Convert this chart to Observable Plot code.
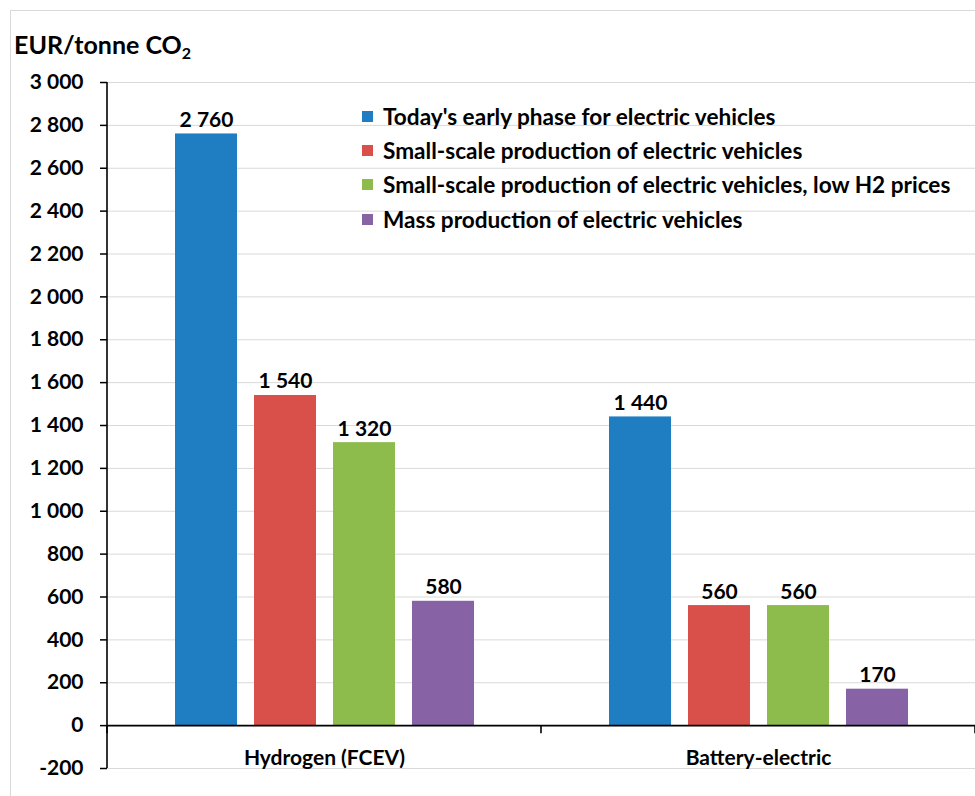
<!DOCTYPE html>
<html><head><meta charset="utf-8">
<script src="https://cdn.jsdelivr.net/npm/d3@7"></script>
<script src="https://cdn.jsdelivr.net/npm/@observablehq/plot@0.6"></script>
<style>
body{margin:0;background:#fff;font-family:Lato,"Open Sans",sans-serif;}
#wrap{position:relative;width:975px;height:796px;overflow:hidden;background:#fff}
#border{position:absolute;left:10px;top:10px;width:1000px;height:900px;border:1px solid #d9d9d9;}
#chart{position:absolute;left:0;top:0}
#title{position:absolute;left:14px;top:29px;font-weight:700;font-size:25px;color:#000;white-space:nowrap}
#title sub{font-size:16px;vertical-align:-5px;line-height:0}
#legend{position:absolute;left:362px;top:99px;font-weight:700;font-size:22.6px;color:#000}
#legend .row{display:flex;align-items:center;height:34.3px;white-space:nowrap}
#legend .sw{width:11px;height:11px;margin-right:10px;flex:none}
</style></head>
<body>
<div id="wrap">
  <div id="border"></div>
  <div id="chart"></div>
  <div id="title">EUR/tonne CO<sub>2</sub></div>
  <div id="legend"></div>
</div>
<script>
const groups = ["Hydrogen (FCEV)", "Battery-electric"];
const series = [
  "Today's early phase for electric vehicles",
  "Small-scale production of electric vehicles",
  "Small-scale production of electric vehicles, low H2 prices",
  "Mass production of electric vehicles"
];
const hydrogenValues = [2760, 1540, 1320, 580];
const batteryValues = [1440, 560, 560, 170];
const colors = ["#1f7dc1", "#d9504a", "#8dbb4c", "#8763a6"];
const yTicks = [-200, 0, 200, 400, 600, 800, 1000, 1200, 1400, 1600, 1800, 2000, 2200, 2400, 2600, 2800, 3000];
const categoryLabelY = -150;

const data = [];
series.forEach((s, i) => {
  data.push({group: groups[0], series: s, value: hydrogenValues[i]});
  data.push({group: groups[1], series: s, value: batteryValues[i]});
});

const fmt = d3.formatLocale({decimal: ",", thousands: "\u00a0", grouping: [3], currency: ["", ""], minus: "-"}).format(",d");
const font = "Lato, 'Open Sans', sans-serif";

const plot = Plot.plot({
  width: 975,
  height: 796,
  marginTop: 82,
  marginBottom: 28,
  marginLeft: 107,
  marginRight: 0,
  style: {fontFamily: font, fontSize: "21px", fontWeight: "bold", color: "#000", background: "transparent"},
  fx: {domain: groups, padding: 0, axis: null},
  x: {domain: series, paddingInner: 17/79, paddingOuter: 67.5/79, axis: null},
  y: {domain: [-200, 3000], axis: null},
  color: {domain: series, range: colors},
  marks: [
    Plot.gridY(yTicks, {stroke: "#d9d9d9", strokeOpacity: 1, strokeWidth: 1}),
    Plot.axisY(yTicks, {anchor: "left", label: null, tickSize: 7, tickPadding: 17, tickFormat: fmt, fontSize: 21, fontWeight: "bold", stroke: "#000", strokeWidth: 1.5}),
    Plot.barY(data, {fx: "group", x: "series", y: "value", fill: "series"}),
    Plot.text(data, {fx: "group", x: "series", y: "value", text: d => fmt(d.value), dy: -7, lineAnchor: "bottom", fill: "#000", fontSize: 21, fontWeight: "bold"}),
    Plot.ruleY([0], {stroke: "#000", strokeWidth: 1.6}),
    Plot.text(groups, {fx: d => d, y: () => categoryLabelY, text: d => d, frameAnchor: "middle", lineAnchor: "middle", fill: "#000", fontSize: 21, fontWeight: "bold"})
  ]
});
document.getElementById("chart").appendChild(plot);

// axis lines: vertical y axis line and category separator ticks
const ys = plot.scale("y"), fxs = plot.scale("fx");
const svg = d3.select(plot);
const left = fxs.apply(groups[0]);
svg.append("line").attr("x1", left).attr("x2", left)
  .attr("y1", ys.apply(yTicks[0])).attr("y2", ys.apply(yTicks[yTicks.length - 1]))
  .attr("stroke", "#000").attr("stroke-width", 1.6);
const bounds = [fxs.apply(groups[0]), fxs.apply(groups[1]), fxs.apply(groups[1]) + fxs.bandwidth];
bounds.forEach(bx => {
  svg.append("line").attr("x1", bx).attr("x2", bx)
    .attr("y1", ys.apply(0)).attr("y2", ys.apply(0) + 8)
    .attr("stroke", "#000").attr("stroke-width", 1.6);
});

// legend
const leg = d3.select("#legend");
series.forEach((s, i) => {
  const r = leg.append("div").attr("class", "row");
  r.append("div").attr("class", "sw").style("background", colors[i]);
  r.append("span").text(s);
});
</script>
</body></html>
